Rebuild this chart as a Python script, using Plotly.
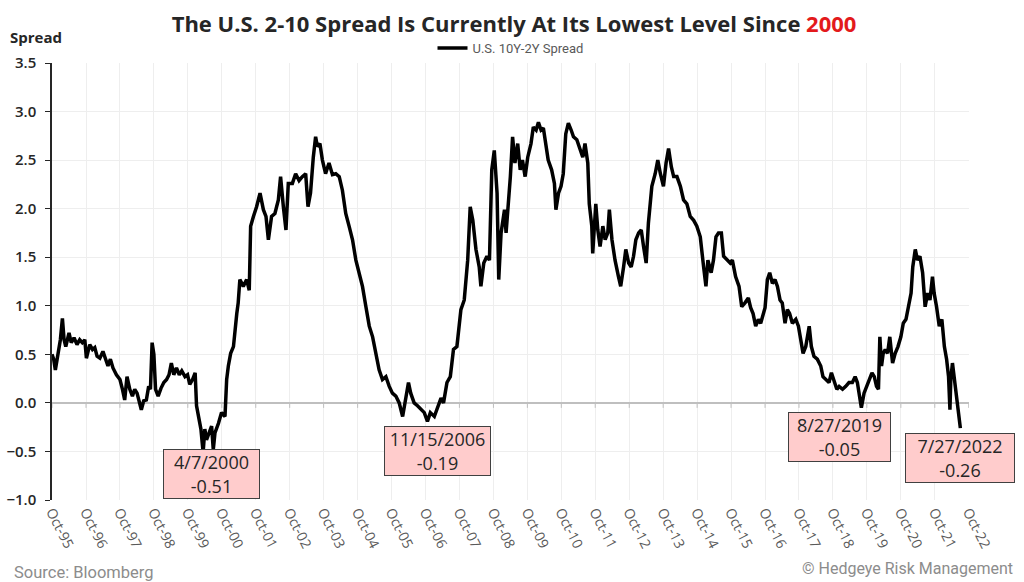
import plotly.graph_objects as go

# U.S. 10Y-2Y spread
dates = [
    "1995-10-25", "1995-11-12", "1995-11-30", "1995-12-28", "1996-01-23", "1996-02-14", "1996-03-03", "1996-03-21",
    "1996-04-25", "1996-05-19", "1996-06-18", "1996-07-20", "1996-08-18", "1996-09-15", "1996-10-12", "1996-10-29",
    "1996-12-04", "1997-01-03", "1997-01-27", "1997-02-21", "1997-03-23", "1997-04-25", "1997-05-25", "1997-06-18",
    "1997-07-14", "1997-08-11", "1997-09-17", "1997-10-25", "1997-11-21", "1997-12-15", "1998-01-09", "1998-02-08",
    "1998-03-08", "1998-04-02", "1998-04-27", "1998-05-25", "1998-06-12", "1998-07-07", "1998-08-05", "1998-08-30",
    "1998-09-18", "1998-10-06", "1998-10-25", "1998-11-12", "1998-12-10", "1999-01-09", "1999-02-09", "1999-03-11",
    "1999-04-06", "1999-05-01", "1999-05-27", "1999-06-25", "1999-07-25", "1999-08-21", "1999-09-25", "1999-10-22",
    "1999-11-15", "1999-12-15", "2000-01-12", "2000-01-27", "2000-02-25", "2000-03-14", "2000-04-07", "2000-04-25",
    "2000-05-13", "2000-06-12", "2000-07-07", "2000-07-25", "2000-08-12", "2000-09-19", "2000-10-22", "2000-11-28",
    "2000-12-16", "2001-01-03", "2001-01-28", "2001-02-27", "2001-03-17", "2001-04-04", "2001-04-19", "2001-05-07",
    "2001-06-13", "2001-07-19", "2001-08-16", "2001-08-31", "2001-09-30", "2001-11-03", "2001-12-10", "2002-01-15",
    "2002-02-12", "2002-03-10", "2002-04-13", "2002-05-19", "2002-06-25", "2002-07-19", "2002-08-18", "2002-09-15",
    "2002-10-10", "2002-11-23", "2002-12-28", "2003-02-03", "2003-03-10", "2003-04-15", "2003-05-10", "2003-06-06",
    "2003-07-06", "2003-07-31", "2003-08-19", "2003-09-15", "2003-10-12", "2003-11-15", "2003-12-22", "2004-01-28",
    "2004-03-04", "2004-04-10", "2004-05-14", "2004-06-19", "2004-07-25", "2004-08-31", "2004-10-06", "2004-11-10",
    "2004-12-16", "2005-01-22", "2005-02-27", "2005-04-04", "2005-05-07", "2005-06-13", "2005-07-19", "2005-08-25",
    "2005-09-30", "2005-11-03", "2005-12-10", "2006-01-15", "2006-02-21", "2006-03-20", "2006-04-25", "2006-05-19",
    "2006-06-25", "2006-07-31", "2006-09-06", "2006-10-12", "2006-11-15", "2006-12-16", "2007-01-28", "2007-03-05",
    "2007-04-10", "2007-05-07", "2007-06-13", "2007-07-19", "2007-08-22", "2007-09-28", "2007-11-10", "2007-12-16",
    "2008-01-22", "2008-02-18", "2008-03-17", "2008-04-20", "2008-05-25", "2008-06-12", "2008-07-13", "2008-08-16",
    "2008-09-12", "2008-10-07", "2008-11-03", "2008-12-03", "2008-12-21", "2009-01-15", "2009-02-21", "2009-03-10",
    "2009-04-04", "2009-04-25", "2009-05-19", "2009-06-13", "2009-07-13", "2009-08-09", "2009-09-02", "2009-10-01",
    "2009-10-29", "2009-12-03", "2009-12-28", "2010-01-27", "2010-02-21", "2010-03-21", "2010-04-15", "2010-05-10",
    "2010-06-06", "2010-07-13", "2010-08-12", "2010-08-28", "2010-09-25", "2010-10-22", "2010-11-15", "2010-12-12",
    "2011-01-09", "2011-02-08", "2011-03-05", "2011-04-10", "2011-05-14", "2011-06-13", "2011-07-07", "2011-08-06",
    "2011-08-22", "2011-09-18", "2011-09-28", "2011-10-16", "2011-10-31", "2011-11-22", "2011-12-16", "2012-01-15",
    "2012-02-09", "2012-03-08", "2012-03-25", "2012-04-22", "2012-05-25", "2012-07-01", "2012-07-25", "2012-08-25",
    "2012-09-18", "2012-10-19", "2012-11-15", "2012-12-10", "2013-01-04", "2013-02-03", "2013-03-03", "2013-03-28",
    "2013-04-25", "2013-05-19", "2013-06-25", "2013-07-31", "2013-08-28", "2013-09-25", "2013-10-28", "2013-11-25",
    "2013-12-22", "2014-01-21", "2014-02-15", "2014-03-22", "2014-04-28", "2014-06-01", "2014-07-07", "2014-08-12",
    "2014-09-18", "2014-10-22", "2014-11-28", "2015-01-03", "2015-01-28", "2015-02-18", "2015-03-25", "2015-04-19",
    "2015-05-16", "2015-06-12", "2015-07-13", "2015-08-06", "2015-09-12", "2015-10-16", "2015-11-08", "2015-12-13",
    "2016-01-19", "2016-02-17", "2016-03-23", "2016-04-28", "2016-05-23", "2016-06-18", "2016-07-16", "2016-08-14",
    "2016-09-08", "2016-10-03", "2016-10-25", "2016-11-19", "2016-12-14", "2017-01-12", "2017-02-09", "2017-03-07",
    "2017-04-04", "2017-04-28", "2017-05-28", "2017-06-22", "2017-07-16", "2017-08-15", "2017-09-21", "2017-10-19",
    "2017-11-13", "2017-12-08", "2018-01-06", "2018-02-12", "2018-03-07", "2018-04-04", "2018-05-10", "2018-06-16",
    "2018-07-10", "2018-08-16", "2018-09-13", "2018-10-09", "2018-11-06", "2018-12-06", "2018-12-31", "2019-02-06",
    "2019-03-12", "2019-04-16", "2019-05-22", "2019-06-21", "2019-07-15", "2019-08-02", "2019-08-27", "2019-09-25",
    "2019-10-25", "2019-11-19", "2019-12-19", "2020-01-13", "2020-02-06", "2020-02-27", "2020-03-13", "2020-03-31",
    "2020-04-18", "2020-05-10", "2020-06-04", "2020-06-28", "2020-07-28", "2020-08-25", "2020-09-24", "2020-10-25",
    "2020-11-20", "2020-12-19", "2021-01-16", "2021-02-12", "2021-03-02", "2021-03-29", "2021-04-22", "2021-05-18",
    "2021-06-16", "2021-07-13", "2021-08-09", "2021-09-03", "2021-09-30", "2021-10-18", "2021-11-13", "2021-12-12",
    "2022-01-09", "2022-02-05", "2022-03-01", "2022-03-22", "2022-04-06", "2022-04-15", "2022-05-03", "2022-05-21",
    "2022-06-08", "2022-06-26", "2022-07-27",
]
spread = [
    0.50, 0.45, 0.34, 0.51, 0.65, 0.87, 0.65, 0.58,
    0.72, 0.62, 0.67, 0.60, 0.65, 0.62, 0.65, 0.46,
    0.60, 0.55, 0.57, 0.48, 0.46, 0.53, 0.43, 0.38,
    0.45, 0.36, 0.29, 0.24, 0.14, 0.03, 0.27, 0.14,
    0.07, 0.14, 0.10, 0.00, -0.07, 0.02, 0.03, 0.17,
    0.14, 0.62, 0.50, 0.14, 0.07, 0.15, 0.21, 0.24,
    0.29, 0.41, 0.29, 0.36, 0.29, 0.33, 0.27, 0.29,
    0.19, 0.24, 0.31, -0.03, -0.17, -0.27, -0.51, -0.27,
    -0.38, -0.31, -0.24, -0.48, -0.31, -0.21, -0.10, -0.14,
    0.24, 0.38, 0.51, 0.58, 0.79, 0.92, 1.03, 1.27,
    1.20, 1.27, 1.16, 1.82, 1.92, 2.02, 2.16, 1.99,
    1.92, 1.68, 1.92, 1.95, 2.09, 2.33, 2.02, 1.78,
    2.26, 2.26, 2.36, 2.29, 2.33, 2.36, 2.02, 2.16,
    2.53, 2.74, 2.64, 2.67, 2.50, 2.36, 2.47, 2.35,
    2.36, 2.33, 2.19, 1.95, 1.82, 1.68, 1.47, 1.34,
    1.20, 0.99, 0.79, 0.68, 0.51, 0.34, 0.24, 0.27,
    0.17, 0.10, 0.07, 0.00, -0.14, 0.03, 0.21, 0.10,
    0.00, -0.03, -0.07, -0.10, -0.19, -0.10, -0.14, -0.03,
    0.05, 0.00, 0.21, 0.27, 0.55, 0.58, 0.96, 1.06,
    1.47, 2.02, 1.88, 1.58, 1.40, 1.20, 1.44, 1.51,
    1.47, 2.40, 2.60, 2.16, 1.27, 1.75, 1.99, 1.75,
    2.05, 2.33, 2.74, 2.47, 2.67, 2.40, 2.50, 2.33,
    2.53, 2.67, 2.84, 2.81, 2.89, 2.81, 2.83, 2.67,
    2.50, 2.40, 2.26, 1.99, 2.16, 2.23, 2.36, 2.77,
    2.88, 2.81, 2.74, 2.71, 2.60, 2.53, 2.67, 2.47,
    2.05, 1.82, 1.54, 1.85, 2.05, 1.78, 1.61, 1.82,
    1.68, 1.75, 1.99, 1.68, 1.47, 1.30, 1.20, 1.40,
    1.58, 1.44, 1.40, 1.51, 1.68, 1.75, 1.78, 1.61,
    1.44, 1.85, 2.23, 2.36, 2.50, 2.36, 2.23, 2.47,
    2.62, 2.43, 2.33, 2.33, 2.23, 2.09, 2.05, 1.92,
    1.88, 1.82, 1.71, 1.40, 1.20, 1.47, 1.34, 1.47,
    1.71, 1.75, 1.75, 1.51, 1.47, 1.44, 1.47, 1.30,
    1.20, 0.99, 1.03, 1.08, 0.98, 0.92, 0.79, 0.86,
    0.82, 0.92, 0.98, 1.27, 1.34, 1.23, 1.27, 1.20,
    1.06, 1.03, 0.82, 0.96, 0.92, 0.82, 0.86, 0.79,
    0.62, 0.51, 0.58, 0.79, 0.58, 0.48, 0.45, 0.38,
    0.27, 0.24, 0.21, 0.31, 0.24, 0.14, 0.17, 0.14,
    0.17, 0.21, 0.21, 0.27, 0.21, 0.10, -0.05, 0.10,
    0.17, 0.24, 0.31, 0.27, 0.17, 0.14, 0.68, 0.38,
    0.51, 0.55, 0.51, 0.68, 0.41, 0.51, 0.58, 0.68,
    0.82, 0.86, 0.99, 1.13, 1.40, 1.58, 1.47, 1.51,
    1.34, 0.99, 1.13, 1.06, 1.30, 1.13, 0.99, 0.79,
    0.86, 0.58, 0.45, 0.27, -0.07, 0.24, 0.41, 0.27,
    0.10, -0.07, -0.26,
]

# x axis ticks (one per October)
tick_dates = ["%d-10-25" % y for y in range(1995, 2023)]
tick_labels = ["Oct-%02d" % (y % 100) for y in range(1995, 2023)]

# called-out lows
low_dates = ["2000-04-07", "2006-11-15", "2019-08-27", "2022-07-27"]
low_values = [-0.51, -0.19, -0.05, -0.26]
low_labels = ["4/7/2000", "11/15/2006", "8/27/2019", "7/27/2022"]
low_shift = [(8, 3), (10, -5), (-22, -4), (0, -5)]
low_width = [93, 103, 99, 106]

fig = go.Figure()
fig.add_trace(go.Scatter(x=dates, y=spread, mode="lines", name="U.S. 10Y-2Y Spread",
                         line=dict(color="black", width=3.5)))

for d, v, lab, (dx, dy), w in zip(low_dates, low_values, low_labels, low_shift, low_width):
    fig.add_annotation(x=d, y=v, xref="x", yref="y", text=lab + "<br>%.2f" % v,
                       showarrow=False, xanchor="center", yanchor="top", xshift=dx, yshift=dy,
                       width=w, height=46, align="center",
                       font=dict(family="Open Sans", size=18, color="#262626"),
                       bgcolor="#ffcccc", bordercolor="#404040", borderwidth=1, borderpad=1)

# small tick marks hanging off the zero line
for d in tick_dates:
    fig.add_shape(type="line", xref="x", yref="y", x0=d, x1=d, ysizemode="pixel",
                  yanchor=0, y0=0, y1=-5, line=dict(color="#bfbfbf", width=1))

fig.add_annotation(text="<b>Spread</b>", xref="paper", yref="paper", x=-0.048, y=1.06,
                   xanchor="left", yanchor="middle", showarrow=False,
                   font=dict(family="Open Sans", size=15, color="#262626"))
fig.add_annotation(text="Source: Bloomberg", xref="paper", yref="paper", x=-0.044, y=-0.167,
                   xanchor="left", yanchor="middle", showarrow=False,
                   font=dict(family="Roboto", size=16.5, color="#8c8c8c"))
fig.add_annotation(text="© Hedgeye Risk Management", xref="paper", yref="paper", x=1.05, y=-0.156,
                   xanchor="right", yanchor="middle", showarrow=False,
                   font=dict(family="Roboto", size=16, color="#8c8c8c"))

fig.update_layout(
    width=1024, height=582,
    margin=dict(l=52, r=55, t=63, b=82, autoexpand=False),
    paper_bgcolor="white", plot_bgcolor="white",
    title=dict(text="<b>The U.S. 2-10 Spread Is Currently At Its Lowest Level Since "
                    "<span style='color:#e31a1c'>2000</span></b>",
               x=0.502, xref="container", xanchor="center", y=0.959, yanchor="middle",
               font=dict(family="Open Sans", size=22, color="#262626")),
    showlegend=True,
    legend=dict(orientation="h", x=0.5, xanchor="center", y=1.0, yanchor="bottom",
                font=dict(family="Roboto", size=13, color="#595959"), itemwidth=30),
    xaxis=dict(type="date", range=["1995-10-25", "2022-10-28"], tickmode="array",
               tickvals=tick_dates, ticktext=tick_labels, tickangle=63,
               tickfont=dict(family="Open Sans", size=14, color="#595959"),
               showgrid=True, gridcolor="#eeeeee", zeroline=False, showline=False, ticks=""),
    yaxis=dict(range=[-1.0, 3.5], dtick=0.5, tickformat=".1f",
               tickfont=dict(family="Open Sans", size=15, color="#262626", weight=600),
               ticklabelstandoff=6,
               showgrid=True, gridcolor="#eeeeee", zeroline=True, zerolinecolor="#bfbfbf",
               zerolinewidth=1.5, showline=True, linecolor="#262626", linewidth=1.5,
               ticks="outside", ticklen=5, tickcolor="#262626"),
)

# the page's default body margin would push the figure 8px off the window
fig.write_html("out.html", config={"displayModeBar": False},
               post_script="document.body.style.margin='0px';")
